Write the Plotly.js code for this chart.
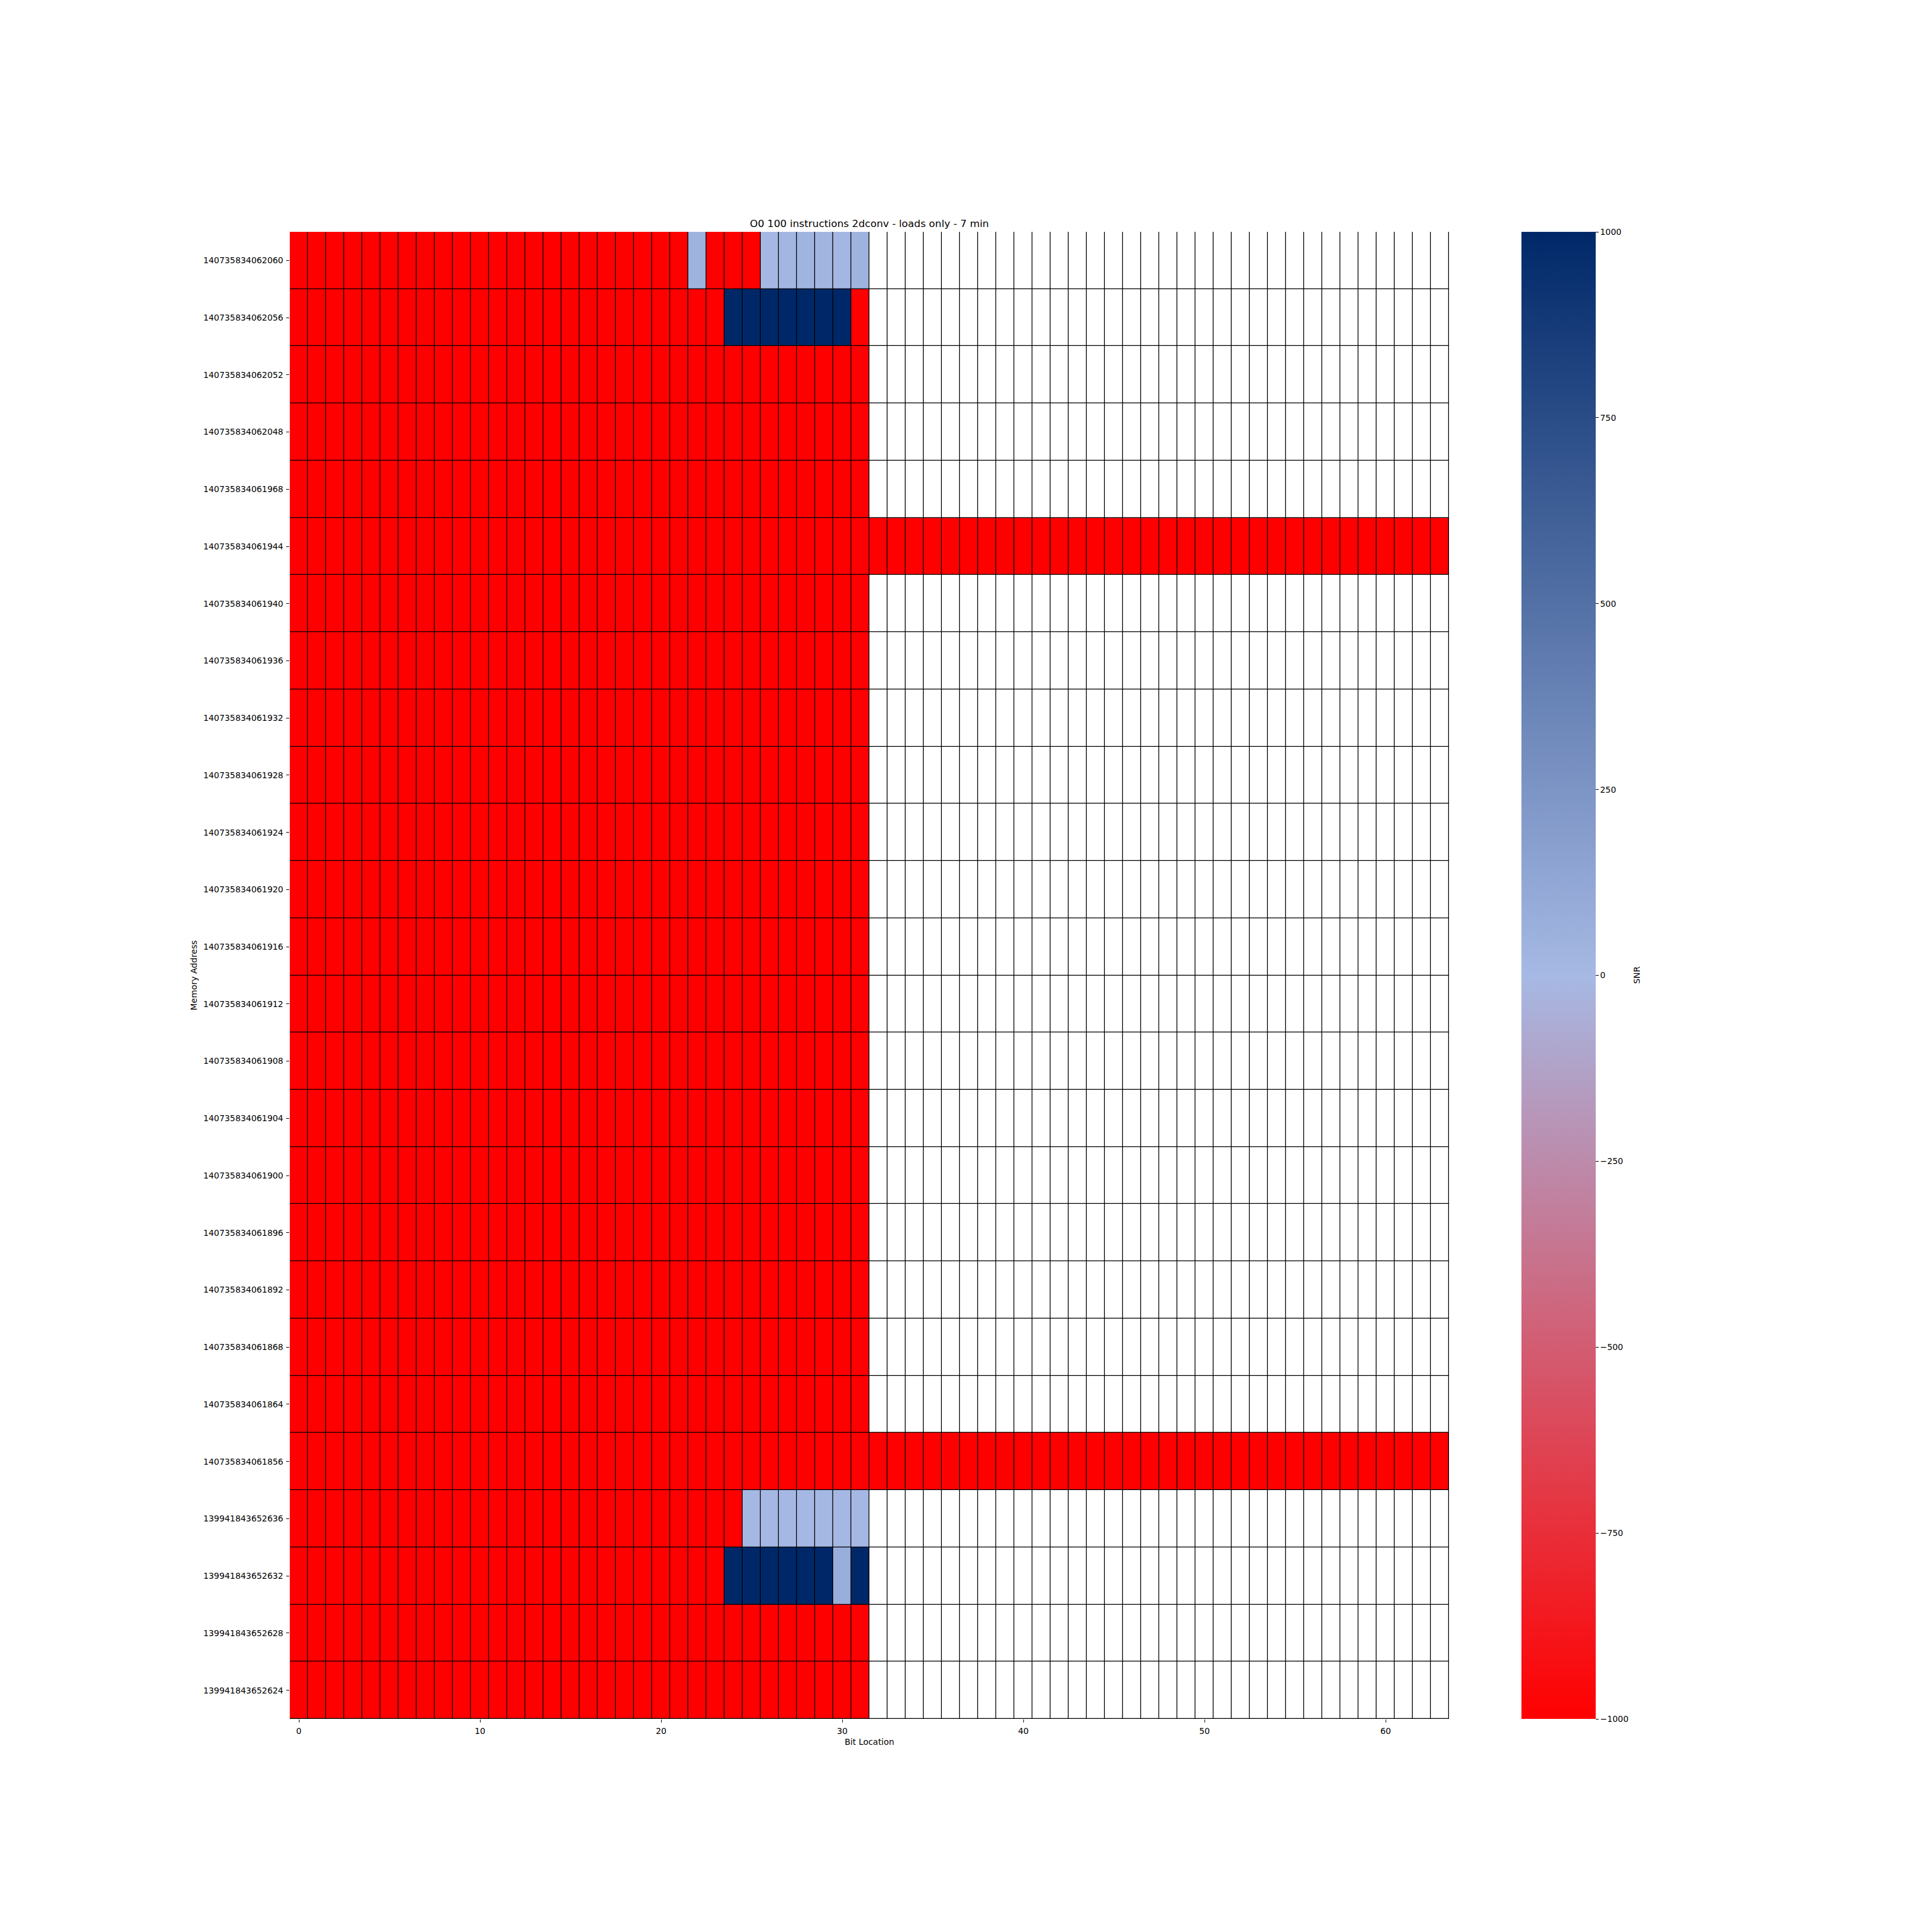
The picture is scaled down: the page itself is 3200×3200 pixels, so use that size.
<!DOCTYPE html>
<html>
<head>
<meta charset="utf-8">
<script src="https://cdn.plot.ly/plotly-3.0.1.min.js"></script>
<style>html,body{margin:0;padding:0;background:#fff;}</style>
</head>
<body>
<div id="chart" style="width:3200px;height:3200px;"></div>
<script>
// Values
const R = -1000;   // strong negative SNR (red)
const B = 1000;    // strong positive SNR (navy)
const N = null;    // no data (unused bits)

const memoryAddresses = [
  "140735834062060","140735834062056","140735834062052","140735834062048",
  "140735834061968","140735834061944","140735834061940","140735834061936",
  "140735834061932","140735834061928","140735834061924","140735834061920",
  "140735834061916","140735834061912","140735834061908","140735834061904",
  "140735834061900","140735834061896","140735834061892","140735834061868",
  "140735834061864","140735834061856","139941843652636","139941843652632",
  "139941843652628","139941843652624"
];

const bitLocations = [
  0,1,2,3,4,5,6,7,8,9,10,11,12,13,14,15,16,17,18,19,20,21,22,23,24,25,26,27,28,29,30,31,
  32,33,34,35,36,37,38,39,40,41,42,43,44,45,46,47,48,49,50,51,52,53,54,55,56,57,58,59,60,61,62,63
];

const xTickValues = [0,10,20,30,40,50,60];
const cbarTickValues = [-1000,-750,-500,-250,0,250,500,750,1000];

const snr = [
  [R,R,R,R,R,R,R,R, R,R,R,R,R,R,R,R, R,R,R,R,R,R,40,R, R,R,5,20,35,25,15,40, N,N,N,N,N,N,N,N, N,N,N,N,N,N,N,N, N,N,N,N,N,N,N,N, N,N,N,N,N,N,N,N],
  [R,R,R,R,R,R,R,R, R,R,R,R,R,R,R,R, R,R,R,R,R,R,R,R, B,B,B,B,B,B,B,R, N,N,N,N,N,N,N,N, N,N,N,N,N,N,N,N, N,N,N,N,N,N,N,N, N,N,N,N,N,N,N,N],
  [R,R,R,R,R,R,R,R, R,R,R,R,R,R,R,R, R,R,R,R,R,R,R,R, R,R,R,R,R,R,R,R, N,N,N,N,N,N,N,N, N,N,N,N,N,N,N,N, N,N,N,N,N,N,N,N, N,N,N,N,N,N,N,N],
  [R,R,R,R,R,R,R,R, R,R,R,R,R,R,R,R, R,R,R,R,R,R,R,R, R,R,R,R,R,R,R,R, N,N,N,N,N,N,N,N, N,N,N,N,N,N,N,N, N,N,N,N,N,N,N,N, N,N,N,N,N,N,N,N],
  [R,R,R,R,R,R,R,R, R,R,R,R,R,R,R,R, R,R,R,R,R,R,R,R, R,R,R,R,R,R,R,R, N,N,N,N,N,N,N,N, N,N,N,N,N,N,N,N, N,N,N,N,N,N,N,N, N,N,N,N,N,N,N,N],
  [R,R,R,R,R,R,R,R, R,R,R,R,R,R,R,R, R,R,R,R,R,R,R,R, R,R,R,R,R,R,R,R, R,R,R,R,R,R,R,R, R,R,R,R,R,R,R,R, R,R,R,R,R,R,R,R, R,R,R,R,R,R,R,R],
  [R,R,R,R,R,R,R,R, R,R,R,R,R,R,R,R, R,R,R,R,R,R,R,R, R,R,R,R,R,R,R,R, N,N,N,N,N,N,N,N, N,N,N,N,N,N,N,N, N,N,N,N,N,N,N,N, N,N,N,N,N,N,N,N],
  [R,R,R,R,R,R,R,R, R,R,R,R,R,R,R,R, R,R,R,R,R,R,R,R, R,R,R,R,R,R,R,R, N,N,N,N,N,N,N,N, N,N,N,N,N,N,N,N, N,N,N,N,N,N,N,N, N,N,N,N,N,N,N,N],
  [R,R,R,R,R,R,R,R, R,R,R,R,R,R,R,R, R,R,R,R,R,R,R,R, R,R,R,R,R,R,R,R, N,N,N,N,N,N,N,N, N,N,N,N,N,N,N,N, N,N,N,N,N,N,N,N, N,N,N,N,N,N,N,N],
  [R,R,R,R,R,R,R,R, R,R,R,R,R,R,R,R, R,R,R,R,R,R,R,R, R,R,R,R,R,R,R,R, N,N,N,N,N,N,N,N, N,N,N,N,N,N,N,N, N,N,N,N,N,N,N,N, N,N,N,N,N,N,N,N],
  [R,R,R,R,R,R,R,R, R,R,R,R,R,R,R,R, R,R,R,R,R,R,R,R, R,R,R,R,R,R,R,R, N,N,N,N,N,N,N,N, N,N,N,N,N,N,N,N, N,N,N,N,N,N,N,N, N,N,N,N,N,N,N,N],
  [R,R,R,R,R,R,R,R, R,R,R,R,R,R,R,R, R,R,R,R,R,R,R,R, R,R,R,R,R,R,R,R, N,N,N,N,N,N,N,N, N,N,N,N,N,N,N,N, N,N,N,N,N,N,N,N, N,N,N,N,N,N,N,N],
  [R,R,R,R,R,R,R,R, R,R,R,R,R,R,R,R, R,R,R,R,R,R,R,R, R,R,R,R,R,R,R,R, N,N,N,N,N,N,N,N, N,N,N,N,N,N,N,N, N,N,N,N,N,N,N,N, N,N,N,N,N,N,N,N],
  [R,R,R,R,R,R,R,R, R,R,R,R,R,R,R,R, R,R,R,R,R,R,R,R, R,R,R,R,R,R,R,R, N,N,N,N,N,N,N,N, N,N,N,N,N,N,N,N, N,N,N,N,N,N,N,N, N,N,N,N,N,N,N,N],
  [R,R,R,R,R,R,R,R, R,R,R,R,R,R,R,R, R,R,R,R,R,R,R,R, R,R,R,R,R,R,R,R, N,N,N,N,N,N,N,N, N,N,N,N,N,N,N,N, N,N,N,N,N,N,N,N, N,N,N,N,N,N,N,N],
  [R,R,R,R,R,R,R,R, R,R,R,R,R,R,R,R, R,R,R,R,R,R,R,R, R,R,R,R,R,R,R,R, N,N,N,N,N,N,N,N, N,N,N,N,N,N,N,N, N,N,N,N,N,N,N,N, N,N,N,N,N,N,N,N],
  [R,R,R,R,R,R,R,R, R,R,R,R,R,R,R,R, R,R,R,R,R,R,R,R, R,R,R,R,R,R,R,R, N,N,N,N,N,N,N,N, N,N,N,N,N,N,N,N, N,N,N,N,N,N,N,N, N,N,N,N,N,N,N,N],
  [R,R,R,R,R,R,R,R, R,R,R,R,R,R,R,R, R,R,R,R,R,R,R,R, R,R,R,R,R,R,R,R, N,N,N,N,N,N,N,N, N,N,N,N,N,N,N,N, N,N,N,N,N,N,N,N, N,N,N,N,N,N,N,N],
  [R,R,R,R,R,R,R,R, R,R,R,R,R,R,R,R, R,R,R,R,R,R,R,R, R,R,R,R,R,R,R,R, N,N,N,N,N,N,N,N, N,N,N,N,N,N,N,N, N,N,N,N,N,N,N,N, N,N,N,N,N,N,N,N],
  [R,R,R,R,R,R,R,R, R,R,R,R,R,R,R,R, R,R,R,R,R,R,R,R, R,R,R,R,R,R,R,R, N,N,N,N,N,N,N,N, N,N,N,N,N,N,N,N, N,N,N,N,N,N,N,N, N,N,N,N,N,N,N,N],
  [R,R,R,R,R,R,R,R, R,R,R,R,R,R,R,R, R,R,R,R,R,R,R,R, R,R,R,R,R,R,R,R, N,N,N,N,N,N,N,N, N,N,N,N,N,N,N,N, N,N,N,N,N,N,N,N, N,N,N,N,N,N,N,N],
  [R,R,R,R,R,R,R,R, R,R,R,R,R,R,R,R, R,R,R,R,R,R,R,R, R,R,R,R,R,R,R,R, R,R,R,R,R,R,R,R, R,R,R,R,R,R,R,R, R,R,R,R,R,R,R,R, R,R,R,R,R,R,R,R],
  [R,R,R,R,R,R,R,R, R,R,R,R,R,R,R,R, R,R,R,R,R,R,R,R, R,5,5,5,5,5,5,5, N,N,N,N,N,N,N,N, N,N,N,N,N,N,N,N, N,N,N,N,N,N,N,N, N,N,N,N,N,N,N,N],
  [R,R,R,R,R,R,R,R, R,R,R,R,R,R,R,R, R,R,R,R,R,R,R,R, B,B,B,B,B,B,75,B, N,N,N,N,N,N,N,N, N,N,N,N,N,N,N,N, N,N,N,N,N,N,N,N, N,N,N,N,N,N,N,N],
  [R,R,R,R,R,R,R,R, R,R,R,R,R,R,R,R, R,R,R,R,R,R,R,R, R,R,R,R,R,R,R,R, N,N,N,N,N,N,N,N, N,N,N,N,N,N,N,N, N,N,N,N,N,N,N,N, N,N,N,N,N,N,N,N],
  [R,R,R,R,R,R,R,R, R,R,R,R,R,R,R,R, R,R,R,R,R,R,R,R, R,R,R,R,R,R,R,R, N,N,N,N,N,N,N,N, N,N,N,N,N,N,N,N, N,N,N,N,N,N,N,N, N,N,N,N,N,N,N,N]
];

// Mask of empty cells so they are drawn white with grid edges
const emptyMask = snr.map(row => row.map(v => (v === null ? 0 : null)));

const FONT = "DejaVu Sans";
const fs = 13.9;
const gap = 1.3;

const traces = [
  {
    type: "heatmap",
    x: bitLocations,
    y: memoryAddresses,
    z: emptyMask,
    colorscale: [[0, "#ffffff"], [1, "#ffffff"]],
    showscale: false,
    xgap: gap, ygap: gap,
    hoverinfo: "skip"
  },
  {
    type: "heatmap",
    x: bitLocations,
    y: memoryAddresses,
    z: snr,
    zmin: -1000, zmax: 1000,
    colorscale: [[0, "#ff0000"], [0.5, "#a6b9e4"], [1, "#002868"]],
    xgap: gap, ygap: gap,
    colorbar: {
      x: 1.0625, xanchor: "left",
      y: 0.5, yanchor: "middle",
      len: 1, lenmode: "fraction",
      thickness: 123,
      xpad: 0, ypad: 0,
      outlinewidth: 0,
      ticks: "outside", ticklen: 5, tickwidth: 1, tickcolor: "#000",
      tickmode: "array", tickvals: cbarTickValues,
      tickprefix: "\u00a0",
      tickfont: { family: FONT, size: fs, color: "#000" },
      title: { text: "" }
    }
  }
];

const layout = {
  width: 3200, height: 3200,
  margin: { l: 480, r: 800, t: 384, b: 353, pad: 0 },
  paper_bgcolor: "#ffffff",
  plot_bgcolor: "#000000",
  font: { family: FONT, size: fs, color: "#000" },
  title: {
    text: "O0 100 instructions 2dconv - loads only - 7 min",
    font: { family: FONT, size: 16.7, color: "#000" },
    x: 0.45, xref: "container", xanchor: "center",
    y: 1 - 370 / 3200, yref: "container", yanchor: "middle"
  },
  xaxis: {
    range: [-0.5, 63.5],
    tickmode: "array", tickvals: xTickValues,
    ticks: "outside", ticklen: 5, tickwidth: 1, tickcolor: "#000",
    ticklabelstandoff: 2,
    showgrid: false, zeroline: false, showline: false,
    tickfont: { family: FONT, size: fs, color: "#000" },
    title: { text: "Bit Location", font: { family: FONT, size: fs, color: "#000" }, standoff: 6 },
    automargin: false
  },
  yaxis: {
    type: "category",
    autorange: "reversed",
    ticks: "outside", ticklen: 5, tickwidth: 1, tickcolor: "#000",
    ticklabelstandoff: 2,
    showgrid: false, zeroline: false, showline: false,
    tickfont: { family: FONT, size: fs, color: "#000" },
    title: { text: "Memory Address", font: { family: FONT, size: fs, color: "#000" }, standoff: 6 },
    automargin: false
  },
  annotations: [
    {
      text: "SNR",
      xref: "paper", yref: "paper",
      x: (2710 - 480) / 1920, y: 0.5,
      xanchor: "center", yanchor: "middle",
      textangle: -90,
      showarrow: false,
      font: { family: FONT, size: fs, color: "#000" }
    }
  ]
};

Plotly.newPlot("chart", traces, layout, { staticPlot: true, displayModeBar: false });
</script>
</body>
</html>
